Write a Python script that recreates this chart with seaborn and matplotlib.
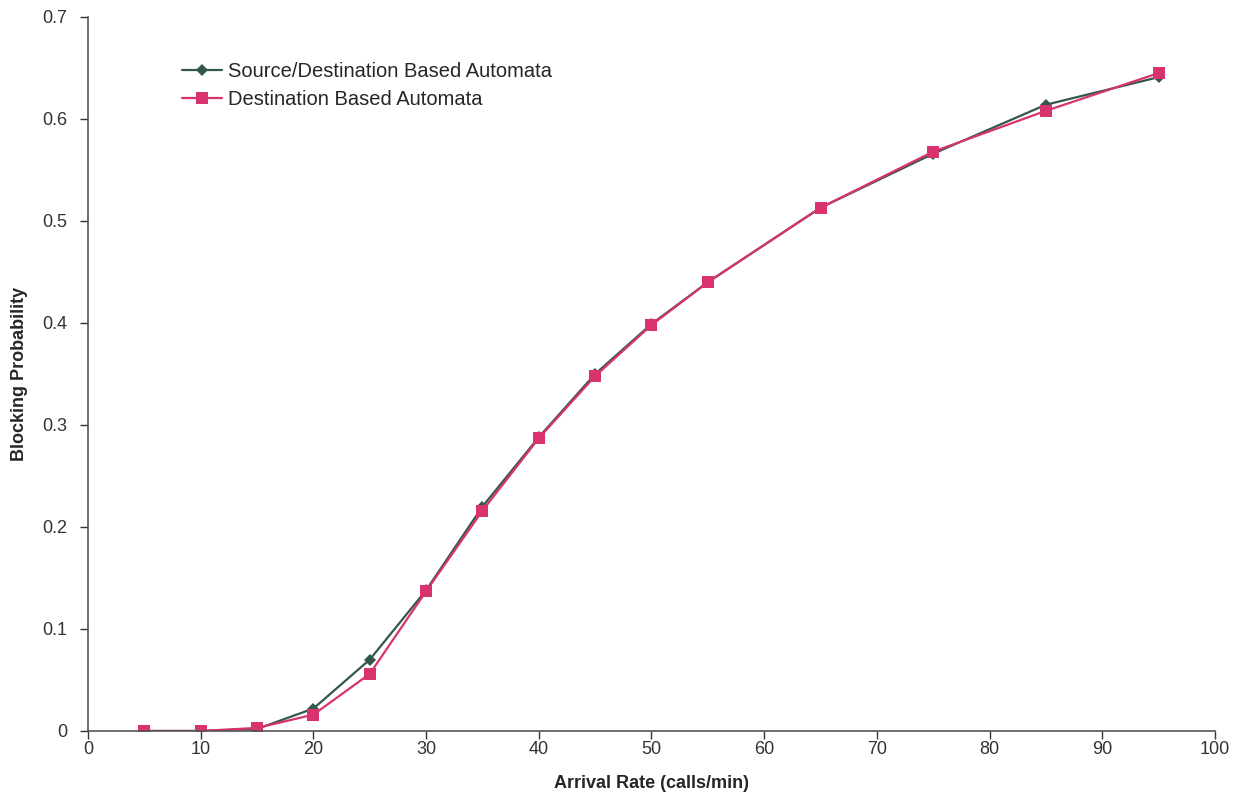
import pandas as pd
import numpy as np
import matplotlib
matplotlib.use("Agg")
import matplotlib.pyplot as plt
import seaborn as sns

# Datos
arrival_rate = [5, 10, 15, 20, 25, 30, 35, 40, 45, 50, 55, 65, 75, 85, 95]
src_dest = [0.0, 0.0, 0.002, 0.022, 0.070, 0.138, 0.220, 0.288, 0.350, 0.399,
            0.440, 0.513, 0.566, 0.614, 0.641]
dest_only = [0.0, 0.0, 0.003, 0.016, 0.056, 0.137, 0.216, 0.287, 0.348, 0.398,
             0.440, 0.513, 0.568, 0.608, 0.645]
series_names = ["Source/Destination Based Automata", "Destination Based Automata"]

df = pd.DataFrame({
    "rate": arrival_rate * 2,
    "prob": src_dest + dest_only,
    "serie": [series_names[0]] * len(arrival_rate) + [series_names[1]] * len(arrival_rate),
})

sns.set_style("white")
plt.rcParams['font.family'] = ['Liberation Sans', 'DejaVu Sans']

fig = plt.figure(figsize=(12.47, 7.98), dpi=100)
ax = fig.add_axes([0.0706, 0.084, 0.9037, 0.8947])

sns.lineplot(data=df, x="rate", y="prob", hue="serie", style="serie",
             palette=["#34574b", "#d8336e"], markers=["D", "s"], dashes=False,
             linewidth=1.6, markeredgewidth=0, ax=ax)
# tamaños de marcador distintos por serie
for line, ms in zip(ax.get_lines()[:2], [6, 8]):
    line.set_markersize(ms)

ax.set_xlim(0, 100)
ax.set_ylim(0, 0.7)
ax.set_xticks(np.arange(0, 101, 10))
ax.set_yticks(np.arange(0, 0.71, 0.1))
ax.set_yticklabels(["0", "0.1", "0.2", "0.3", "0.4", "0.5", "0.6", "0.7"])
ax.tick_params(axis="both", labelsize=13, colors="#333333", length=6, width=1,
               direction="out", left=True, bottom=True)
ax.tick_params(axis="y", pad=9)
ax.tick_params(axis="x", pad=1.5)
for s in ["top", "right"]:
    ax.spines[s].set_visible(False)
for s in ["left", "bottom"]:
    ax.spines[s].set_color("#555555")
    ax.spines[s].set_linewidth(1.2)

ax.set_xlabel("Arrival Rate (calls/min)", fontsize=13, fontweight="bold",
              family=["Liberation Sans Narrow", "Liberation Sans"], labelpad=12)
ax.set_ylabel("Blocking Probability", fontsize=13, fontweight="bold",
              family=["Liberation Sans Narrow", "Liberation Sans"], labelpad=10)

leg = ax.legend(loc="upper left", bbox_to_anchor=(0.067, 0.962), frameon=False,
                fontsize=14.5, handlelength=2.0, handletextpad=0.3, labelspacing=0.45)
leg.set_title(None)
for h, ms in zip(leg.legend_handles, [6, 8]):
    h.set_markersize(ms)

fig.savefig("out.png", dpi=100, facecolor="white")
